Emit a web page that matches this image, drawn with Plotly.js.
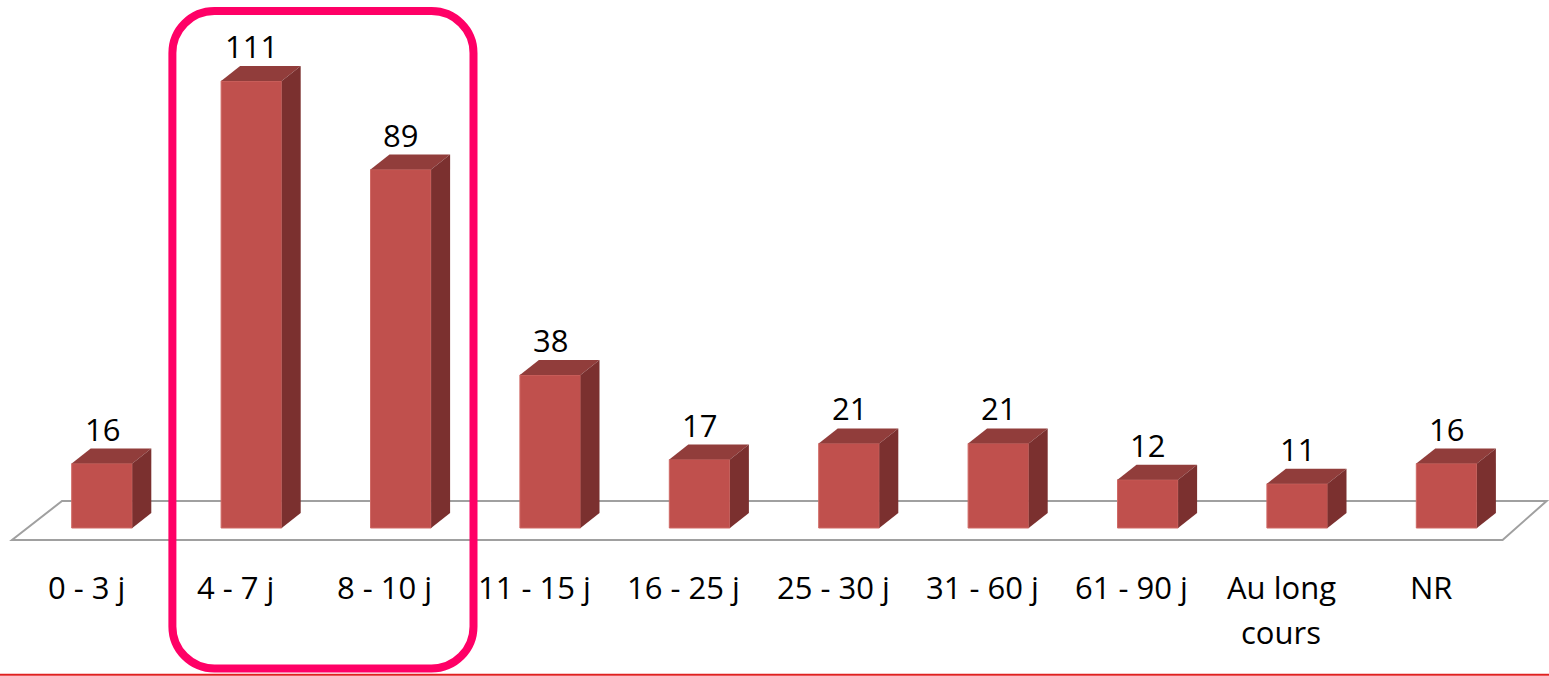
<!DOCTYPE html>
<html>
<head>
<meta charset="utf-8">
<script src="https://cdn.plot.ly/plotly-3.0.1.min.js"></script>
<style>html,body{margin:0;padding:0;background:#fff;}#chart{width:1549px;height:676px;}</style>
</head>
<body>
<div id="chart"></div>
<script>
// ---- data ----
const categories = ['0 - 3 j', '4 - 7 j', '8 - 10 j', '11 - 15 j', '16 - 25 j', '25 - 30 j', '31 - 60 j', '61 - 90 j', 'Au long<br>cours', 'NR'];
const values = [16, 111, 89, 38, 17, 21, 21, 12, 11, 16];
const highlighted = [1, 2];

// ---- geometry (pixels) ----
const W = 1549, H = 676;
const PX_PER_CAT = 149.4;      // px between category centres
const FIRST_CENTER = 102;      // px of first bar centre
const PX_PER_UNIT = 4.027;     // px per value unit
const BASE = 528;              // px of value 0
const X0 = -FIRST_CENTER / PX_PER_CAT;
const xRange = [X0, X0 + W / PX_PER_CAT];
const yRange = [-(H - BASE) / PX_PER_UNIT, BASE / PX_PER_UNIT];
const px2x = p => X0 + p / PX_PER_CAT;
const px2y = p => (BASE - p) / PX_PER_UNIT;
const dX = 19 / PX_PER_CAT;     // depth offset
const dY = 15 / PX_PER_UNIT;
const BAR_W = 60.6 / PX_PER_CAT;
const hw = BAR_W / 2;

const xs = categories.map((_, i) => i);
const xpx = i => FIRST_CENTER + i * PX_PER_CAT;

const FRONT = '#C0504D', TOP = '#913D3B', SIDE = '#7B302F';
const FONT = 'Open Sans, Noto Sans, sans-serif';

const pt = (x, y) => x.toFixed(5) + ',' + y.toFixed(5);
const shapes = [];

// floor
const n = categories.length - 1;
const floorBackY = px2y(501), floorFrontY = px2y(540);
shapes.push({
  type: 'path', xref: 'x', yref: 'y', layer: 'below',
  path: 'M' + pt(px2x(xpx(0) - 40), floorBackY) + ' L' + pt(px2x(xpx(n) + 100), floorBackY) +
        ' L' + pt(px2x(xpx(n) + 56), floorFrontY) + ' L' + pt(px2x(xpx(0) - 90), floorFrontY) + ' Z',
  fillcolor: '#ffffff', line: {color: '#a0a0a0', width: 2}
});

// 3D faces
values.forEach((v, i) => {
  shapes.push({
    type: 'path', xref: 'x', yref: 'y', layer: 'above',
    path: 'M' + pt(i - hw, v) + ' L' + pt(i + hw, v) + ' L' + pt(i + hw + dX, v + dY) +
          ' L' + pt(i - hw + dX, v + dY) + ' Z',
    fillcolor: TOP, line: {width: 0}
  });
  shapes.push({
    type: 'path', xref: 'x', yref: 'y', layer: 'above',
    path: 'M' + pt(i + hw, v) + ' L' + pt(i + hw + dX, v + dY) + ' L' + pt(i + hw + dX, dY) +
          ' L' + pt(i + hw, 0) + ' Z',
    fillcolor: SIDE, line: {width: 0}
  });
});

// highlight rounded rectangle around highlighted categories
(function () {
  const l = xpx(highlighted[0]) - 79, r = xpx(highlighted[highlighted.length - 1]) + 72.7;
  const t = 11, b = 668.5, rad = 42, k = rad * 0.5523;
  const P = (x, y) => pt(px2x(x), px2y(y));
  const path = 'M' + P(l + rad, t) + ' L' + P(r - rad, t) +
    ' C' + P(r - rad + k, t) + ' ' + P(r, t + rad - k) + ' ' + P(r, t + rad) +
    ' L' + P(r, b - rad) +
    ' C' + P(r, b - rad + k) + ' ' + P(r - rad + k, b) + ' ' + P(r - rad, b) +
    ' L' + P(l + rad, b) +
    ' C' + P(l + rad - k, b) + ' ' + P(l, b - rad + k) + ' ' + P(l, b - rad) +
    ' L' + P(l, t + rad) +
    ' C' + P(l, t + rad - k) + ' ' + P(l + rad - k, t) + ' ' + P(l + rad, t) + ' Z';
  shapes.push({type: 'path', xref: 'x', yref: 'y', layer: 'above', path: path,
    line: {color: '#FF0066', width: 8}, fillcolor: 'rgba(0,0,0,0)'});
})();

// bottom line
shapes.push({type: 'line', xref: 'paper', yref: 'paper', x0: 0, x1: 1, y0: 1.2 / H, y1: 1.2 / H,
  line: {color: '#E02020', width: 2}});

// annotations
const annotations = [];
values.forEach((v, i) => {
  annotations.push({x: i, y: v + 35 / PX_PER_UNIT, xref: 'x', yref: 'y', text: String(v),
    showarrow: false, xanchor: 'center', yanchor: 'middle',
    font: {family: FONT, size: 31, color: '#000'}});
});
categories.forEach((c, i) => {
  const lines = c.split('<br>');
  lines.forEach((ln, k) => {
    annotations.push({x: i - 16 / PX_PER_CAT, y: px2y(587 + k * 45), xref: 'x', yref: 'y', text: ln,
      showarrow: false, xanchor: 'center', yanchor: 'middle',
      font: {family: FONT, size: 31, color: '#000'}});
  });
});

const trace = {
  type: 'bar', x: xs, y: values, width: BAR_W,
  marker: {color: FRONT, line: {color: '#CF6A66', width: 1}},
  hoverinfo: 'none', cliponaxis: false
};

const layout = {
  width: W, height: H,
  margin: {l: 0, r: 0, t: 0, b: 0, pad: 0},
  paper_bgcolor: '#fff', plot_bgcolor: 'rgba(0,0,0,0)',
  showlegend: false,
  xaxis: {range: xRange, visible: false, fixedrange: true},
  yaxis: {range: yRange, visible: false, fixedrange: true},
  shapes: shapes, annotations: annotations
};

Plotly.newPlot('chart', [trace], layout, {displayModeBar: false, staticPlot: true});
</script>
</body>
</html>
